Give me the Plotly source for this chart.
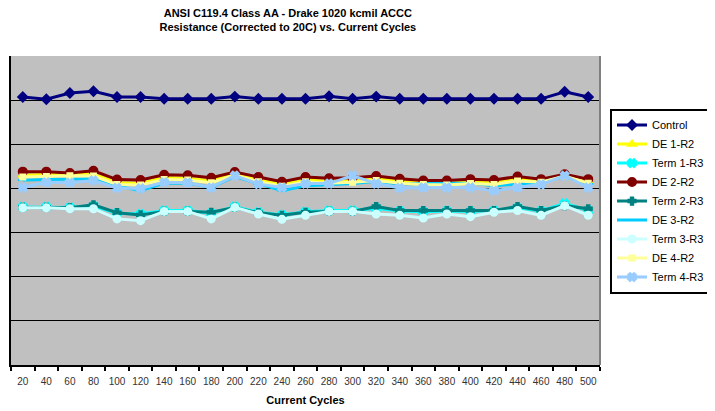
import plotly.graph_objects as go

cycles = ["20", "40", "60", "80", "100", "120", "140", "160", "180", "200", "220", "240", "260",
          "280", "300", "320", "340", "360", "380", "400", "420", "440", "460", "480", "500"]

control = [6.07, 6.02, 6.16, 6.20, 6.07, 6.07, 6.03, 6.03, 6.03, 6.08, 6.03, 6.03, 6.03,
           6.09, 6.03, 6.08, 6.03, 6.03, 6.03, 6.03, 6.03, 6.03, 6.03, 6.19, 6.07]
de1_r2 = [4.30, 4.31, 4.33, 4.32, 4.13, 4.12, 4.24, 4.23, 4.17, 4.33, 4.19, 4.09, 4.19,
          4.16, 4.18, 4.22, 4.16, 4.13, 4.12, 4.15, 4.13, 4.21, 4.18, 4.30, 4.16]
term1_r3 = [3.58, 3.58, 3.57, 3.60, 3.44, 3.42, 3.50, 3.50, 3.44, 3.59, 3.46, 3.40, 3.47,
            3.50, 3.50, 3.55, 3.49, 3.47, 3.49, 3.48, 3.50, 3.56, 3.49, 3.66, 3.50]
de2_r2 = [4.38, 4.38, 4.35, 4.40, 4.20, 4.19, 4.31, 4.30, 4.24, 4.37, 4.26, 4.15, 4.26,
          4.23, 4.24, 4.28, 4.22, 4.18, 4.18, 4.21, 4.19, 4.27, 4.21, 4.32, 4.21]
term2_r3 = [3.57, 3.57, 3.56, 3.63, 3.45, 3.40, 3.48, 3.48, 3.46, 3.57, 3.45, 3.39, 3.46,
            3.48, 3.48, 3.59, 3.50, 3.50, 3.50, 3.50, 3.50, 3.59, 3.50, 3.61, 3.54]
de3_r2 = [4.19, 4.20, 4.22, 4.22, 4.06, 3.95, 4.12, 4.12, 4.02, 4.27, 4.11, 3.95, 4.06,
          4.09, 4.11, 4.16, 4.10, 4.11, 4.12, 4.12, 4.06, 4.10, 4.14, 4.27, 4.10]
term3_r3 = [3.56, 3.56, 3.54, 3.54, 3.31, 3.27, 3.48, 3.48, 3.31, 3.57, 3.42, 3.30, 3.39,
            3.48, 3.48, 3.42, 3.39, 3.33, 3.42, 3.36, 3.46, 3.50, 3.39, 3.61, 3.39]
de4_r2 = [4.26, 4.27, 4.29, 4.28, 4.09, 4.08, 4.20, 4.19, 4.13, 4.30, 4.15, 4.05, 4.15,
          4.12, 4.14, 4.18, 4.12, 4.09, 4.08, 4.11, 4.09, 4.17, 4.14, 4.28, 4.12]
term4_r3 = [4.02, 4.14, 4.13, 4.18, 4.01, 4.00, 4.14, 4.13, 4.02, 4.29, 4.10, 4.02, 4.11,
            4.11, 4.29, 4.11, 4.01, 4.02, 4.02, 4.02, 3.95, 4.02, 4.09, 4.29, 4.02]

series = [
    ("Control", control, "#000080", "diamond", 7),
    ("DE 1-R2", de1_r2, "#FFFF00", "triangle-up", 7),
    ("Term 1-R3", term1_r3, "#00FFFF", "x", 7),
    ("DE 2-R2", de2_r2, "#800000", "circle", 8),
    ("Term 2-R3", term2_r3, "#008080", "cross", 6),
    ("DE 3-R2", de3_r2, "#00CCFF", "line-ew-open", 7),
    ("Term 3-R3", term3_r3, "#CCFFFF", "circle", 7),
    ("DE 4-R2", de4_r2, "#FFFF99", "square", 5),
    ("Term 4-R3", term4_r3, "#99CCFF", "x", 7),
]

fig = go.Figure()
for name, vals, color, sym, size in series:
    fig.add_trace(go.Scatter(
        x=cycles, y=vals, name=name, mode="lines+markers",
        line=dict(color=color, width=3),
        marker=dict(color=color, symbol=sym, size=size, line=dict(color=color, width=2)),
    ))

# page body adds an 8px offset, so the figure is 8px smaller and margins shifted
fig.update_layout(
    width=707, height=403,
    margin=dict(l=3, r=115, t=48, b=46, autoexpand=False),
    paper_bgcolor="white",
    plot_bgcolor="#C0C0C0",
    font=dict(family="Arial, Liberation Sans, sans-serif", size=11, color="black"),
    title=dict(
        text="<b>ANSI C119.4 Class AA - Drake 1020 kcmil ACCC</b><br><b>Resistance (Corrected to 20C) vs. Current Cycles</b>",
        x=0.47, xanchor="center", xref="paper",
        y=1 - 9 / 403, yanchor="middle", yref="container",
        font=dict(size=11),
    ),
    xaxis=dict(
        type="category", tickson="boundaries", ticks="outside", ticklen=4,
        tickcolor="black", tickwidth=2, tickangle=0, ticklabelstandoff=6,
        showline=True, linecolor="black", linewidth=2,
        showgrid=False, zeroline=False, automargin=False,
        tickfont=dict(size=10, color="#333333"),
        title=dict(text="<b>Current Cycles</b>", font=dict(size=11), standoff=10),
        range=[-0.5, 24.5],
    ),
    yaxis=dict(
        range=[0, 7], dtick=1, showticklabels=False, ticks="",
        showgrid=True, gridcolor="black", gridwidth=1,
        showline=True, linecolor="black", linewidth=2,
        zeroline=False, automargin=False,
    ),
    legend=dict(
        x=1.017, xanchor="left", y=0.83, yanchor="top",
        bgcolor="white", bordercolor="black", borderwidth=2,
        font=dict(size=11), tracegroupgap=0, itemwidth=30,
    ),
    showlegend=True,
)

fig.add_shape(type="line", xref="paper", yref="paper", x0=1, x1=1, y0=0, y1=1,
              line=dict(color="#808080", width=2), layer="above")

fig.write_html("out.html")
